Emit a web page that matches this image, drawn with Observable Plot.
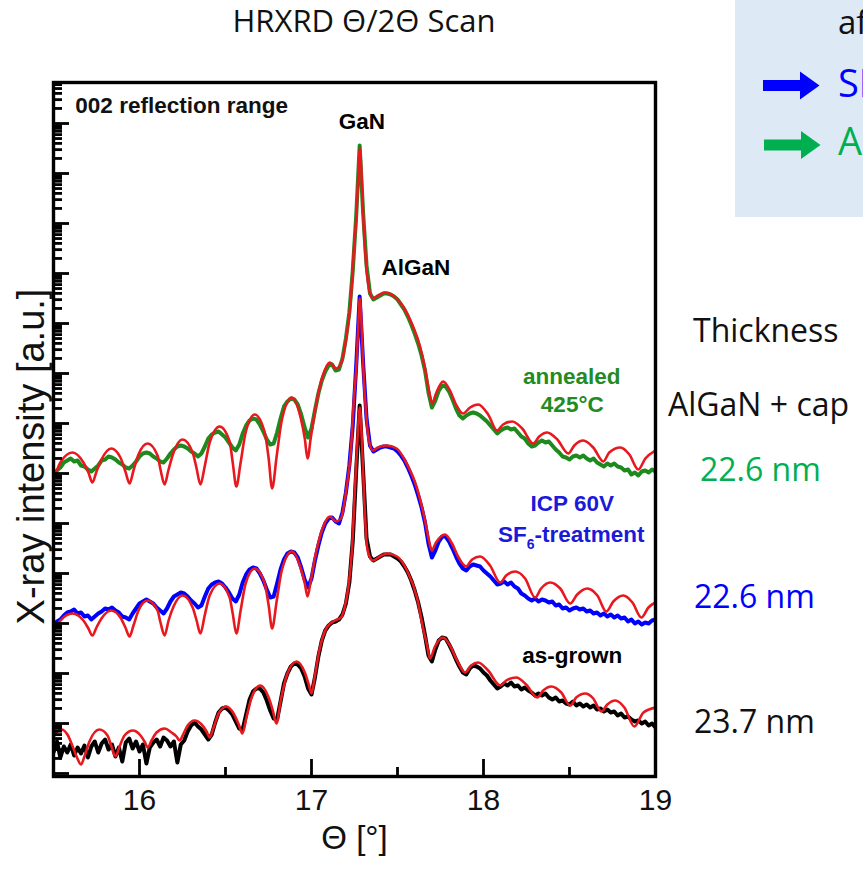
<!DOCTYPE html>
<html>
<head>
<meta charset="utf-8">
<script src="https://cdn.jsdelivr.net/npm/d3@7"></script>
<script src="https://cdn.jsdelivr.net/npm/@observablehq/plot@0.6"></script>
<style>
  html, body { margin: 0; padding: 0; background: #fff; }
  #wrap { position: relative; width: 863px; height: 870px; overflow: hidden; background: #fff; }
  #wrap > svg { position: absolute; left: 0; top: 0; }
  .ov { position: absolute; font-family: "Open Sans", "Noto Sans", sans-serif; white-space: nowrap; }
</style>
</head>
<body>
<div id="wrap"></div>
<script>
// ---------- measured scans: common theta grid (deg) and log10 intensity ----------
const scanTheta = [
15.50,15.52,15.54,15.56,15.58,15.60,15.62,15.64,15.66,15.68,
15.70,15.72,15.74,15.76,15.78,15.80,15.82,15.84,15.86,15.88,
15.90,15.92,15.94,15.96,15.98,16.00,16.02,16.04,16.06,16.08,
16.10,16.12,16.14,16.16,16.18,16.20,16.22,16.24,16.26,16.28,
16.30,16.32,16.34,16.36,16.38,16.40,16.42,16.44,16.46,16.48,
16.50,16.52,16.54,16.56,16.58,16.60,16.62,16.64,16.66,16.68,
16.70,16.72,16.74,16.76,16.78,16.80,16.82,16.84,16.86,16.88,
16.90,16.92,16.94,16.96,16.98,17.00,17.02,17.04,17.06,17.08,
17.10,17.12,17.14,17.16,17.18,17.20,17.22,17.24,17.26,17.28,
17.30,17.32,17.34,17.36,17.38,17.40,17.42,17.44,17.46,17.48,
17.50,17.52,17.54,17.56,17.58,17.60,17.62,17.64,17.66,17.68,
17.70,17.72,17.74,17.76,17.78,17.80,17.82,17.84,17.86,17.88,
17.90,17.92,17.94,17.96,17.98,18.00,18.02,18.04,18.06,18.08,
18.10,18.12,18.14,18.16,18.18,18.20,18.22,18.24,18.26,18.28,
18.30,18.32,18.34,18.36,18.38,18.40,18.42,18.44,18.46,18.48,
18.50,18.52,18.54,18.56,18.58,18.60,18.62,18.64,18.66,18.68,
18.70,18.72,18.74,18.76,18.78,18.80,18.82,18.84,18.86,18.88,
18.90,18.92,18.94,18.96,18.98,19.00];

const annealedScan = [
6.00,6.06,6.12,6.22,6.26,6.30,6.24,6.26,6.16,6.14,
6.08,6.04,6.10,6.16,6.26,6.28,6.34,6.32,6.28,6.22,
6.18,6.12,6.10,6.16,6.24,6.34,6.40,6.42,6.40,6.34,
6.30,6.24,6.22,6.30,6.40,6.48,6.54,6.56,6.54,6.50,
6.44,6.40,6.34,6.40,6.54,6.70,6.78,6.82,6.84,6.78,
6.72,6.62,6.52,6.46,6.58,6.80,6.96,7.06,7.10,7.08,
6.98,6.84,6.68,6.58,6.60,6.82,7.10,7.34,7.44,7.50,
7.48,7.38,7.18,6.92,6.72,6.90,7.26,7.60,7.86,8.04,
8.16,8.18,8.06,8.08,8.30,8.70,9.22,10.06,11.16,12.56,
11.22,10.16,9.60,9.48,9.52,9.56,9.60,9.60,9.58,9.54,
9.48,9.38,9.28,9.14,8.98,8.80,8.60,8.36,8.06,7.62,
7.32,7.46,7.66,7.76,7.74,7.64,7.48,7.30,7.16,7.10,
7.16,7.20,7.22,7.20,7.16,7.10,7.04,6.96,6.88,6.80,
6.86,6.90,6.92,6.88,6.90,6.82,6.74,6.70,6.60,6.54,
6.56,6.62,6.66,6.62,6.64,6.56,6.48,6.42,6.34,6.32,
6.28,6.34,6.36,6.32,6.36,6.30,6.26,6.30,6.22,6.18,
6.14,6.20,6.16,6.20,6.14,6.12,6.06,6.08,5.98,6.02,
5.96,6.04,6.06,6.02,6.08,6.04];

const icpScan = [
2.96,3.04,3.08,3.16,3.22,3.24,3.28,3.20,3.22,3.14,
3.16,3.08,3.14,3.20,3.24,3.30,3.28,3.32,3.26,3.22,
3.14,3.12,3.08,3.20,3.30,3.40,3.44,3.48,3.44,3.40,
3.32,3.26,3.20,3.30,3.44,3.54,3.58,3.62,3.60,3.54,
3.46,3.40,3.32,3.36,3.54,3.70,3.78,3.82,3.84,3.80,
3.72,3.62,3.50,3.44,3.58,3.82,3.98,4.08,4.12,4.10,
4.00,3.86,3.68,3.52,3.54,3.80,4.08,4.28,4.40,4.44,
4.42,4.32,4.12,3.88,3.72,3.90,4.26,4.56,4.82,5.00,
5.10,5.12,5.04,5.00,5.22,5.62,6.16,6.96,8.16,9.54,
8.22,7.10,6.56,6.44,6.48,6.52,6.54,6.54,6.52,6.50,
6.44,6.36,6.26,6.12,5.96,5.78,5.56,5.32,5.02,4.60,
4.32,4.46,4.64,4.74,4.74,4.64,4.50,4.34,4.20,4.10,
4.06,4.14,4.18,4.16,4.14,4.06,4.00,3.94,3.86,3.78,
3.80,3.84,3.78,3.82,3.74,3.70,3.60,3.56,3.50,3.46,
3.50,3.44,3.48,3.46,3.42,3.44,3.36,3.38,3.30,3.32,
3.26,3.30,3.32,3.28,3.30,3.24,3.26,3.20,3.22,3.16,
3.20,3.14,3.18,3.12,3.16,3.10,3.12,3.04,3.08,3.00,
3.04,2.98,3.02,3.00,3.06,3.08];

const asGrownScan = [
0.42,0.64,0.32,0.54,0.42,0.58,0.36,0.52,0.40,0.56,
0.32,0.54,0.64,0.42,0.60,0.68,0.48,0.58,0.34,0.52,
0.24,0.62,0.70,0.50,0.64,0.44,0.58,0.20,0.52,0.62,
0.68,0.54,0.72,0.66,0.54,0.64,0.22,0.58,0.66,0.84,
0.96,1.02,0.94,0.88,0.78,0.68,0.78,1.02,1.22,1.30,
1.32,1.26,1.18,1.04,0.90,0.88,1.18,1.48,1.64,1.70,
1.70,1.62,1.46,1.26,1.10,1.08,1.44,1.80,2.00,2.14,
2.20,2.18,2.10,1.94,1.70,1.58,1.92,2.34,2.66,2.86,
2.96,3.02,3.04,3.08,3.18,3.40,3.82,4.66,6.06,7.36,
6.06,4.70,4.34,4.26,4.30,4.34,4.38,4.38,4.38,4.34,
4.30,4.24,4.14,4.02,3.86,3.66,3.42,3.12,2.76,2.36,
2.24,2.48,2.66,2.72,2.70,2.58,2.44,2.28,2.14,2.02,
1.98,2.10,2.16,2.14,2.10,2.02,1.96,1.86,1.78,1.70,
1.74,1.80,1.76,1.82,1.74,1.76,1.68,1.72,1.66,1.62,
1.56,1.60,1.56,1.60,1.52,1.48,1.52,1.44,1.46,1.40,
1.38,1.44,1.36,1.40,1.34,1.38,1.32,1.36,1.28,1.30,
1.24,1.28,1.22,1.24,1.16,1.20,1.12,1.14,1.08,1.04,
1.06,1.00,1.04,0.96,1.00,0.92];

// ---------- simulated fits: [theta, log10 intensity] ----------
const annealedFit = [[15.499,5.86],[15.540,6.22],[15.610,6.42],[15.674,6.22],[15.703,6.02],[15.726,5.82],[15.750,6.04],[15.779,6.28],[15.835,6.50],[15.889,6.32],[15.918,6.04],[15.942,5.80],[15.965,6.06],[15.994,6.38],[16.047,6.60],[16.105,6.36],[16.122,6.08],[16.146,5.78],[16.169,6.08],[16.198,6.42],[16.250,6.68],[16.309,6.42],[16.332,6.10],[16.354,5.78],[16.379,6.14],[16.408,6.62],[16.466,6.94],[16.524,6.64],[16.542,6.22],[16.563,5.74],[16.588,6.22],[16.617,6.82],[16.670,7.18],[16.728,6.82],[16.751,6.30],[16.771,5.70],[16.798,6.36],[16.827,7.06],[16.885,7.52],[16.938,7.10],[16.961,6.70],[16.977,6.30],[16.996,6.72],[17.029,7.42],[17.066,7.96],[17.107,8.22],[17.142,8.10],[17.171,8.20],[17.204,8.76],[17.229,9.50],[17.246,10.46],[17.262,11.20],[17.273,12.06],[17.281,12.50],[17.290,12.06],[17.300,11.20],[17.316,10.26],[17.334,9.70],[17.357,9.50],[17.386,9.56],[17.427,9.62],[17.474,9.56],[17.532,9.34],[17.590,8.94],[17.631,8.54],[17.660,8.10],[17.683,7.66],[17.701,7.40],[17.724,7.60],[17.765,7.84],[17.805,7.66],[17.840,7.38],[17.881,7.20],[17.922,7.32],[17.969,7.38],[18.027,7.18],[18.079,6.86],[18.114,6.98],[18.167,7.04],[18.225,6.90],[18.289,6.60],[18.324,6.74],[18.370,6.82],[18.429,6.68],[18.493,6.40],[18.528,6.56],[18.580,6.66],[18.638,6.52],[18.697,6.24],[18.731,6.42],[18.796,6.52],[18.848,6.38],[18.900,6.08],[18.941,6.30],[18.999,6.46]];

const icpFit = [[15.499,2.82],[15.540,3.06],[15.610,3.20],[15.674,3.06],[15.703,2.90],[15.726,2.76],[15.750,2.92],[15.779,3.10],[15.835,3.26],[15.889,3.12],[15.918,2.92],[15.942,2.74],[15.965,2.96],[15.994,3.26],[16.047,3.46],[16.105,3.26],[16.122,3.02],[16.146,2.76],[16.169,3.06],[16.198,3.34],[16.250,3.56],[16.309,3.32],[16.332,3.06],[16.354,2.80],[16.379,3.16],[16.408,3.56],[16.466,3.80],[16.524,3.52],[16.542,3.20],[16.563,2.80],[16.588,3.26],[16.617,3.80],[16.670,4.10],[16.728,3.80],[16.751,3.36],[16.771,2.90],[16.798,3.46],[16.827,4.06],[16.885,4.44],[16.938,4.10],[16.961,3.80],[16.977,3.54],[16.996,3.86],[17.029,4.46],[17.066,4.92],[17.107,5.14],[17.142,5.04],[17.171,5.10],[17.204,5.72],[17.229,6.46],[17.246,7.46],[17.262,8.20],[17.273,9.06],[17.281,9.50],[17.290,9.06],[17.300,8.20],[17.316,7.26],[17.334,6.66],[17.357,6.46],[17.386,6.52],[17.437,6.56],[17.495,6.50],[17.553,6.20],[17.612,5.72],[17.660,5.06],[17.683,4.66],[17.699,4.46],[17.724,4.62],[17.776,4.78],[17.817,4.60],[17.852,4.34],[17.899,4.14],[17.934,4.28],[17.980,4.34],[18.038,4.16],[18.097,3.82],[18.132,3.96],[18.184,4.04],[18.242,3.90],[18.300,3.52],[18.335,3.70],[18.388,3.82],[18.446,3.70],[18.504,3.40],[18.545,3.58],[18.603,3.70],[18.662,3.56],[18.714,3.24],[18.755,3.44],[18.813,3.56],[18.866,3.42],[18.918,3.12],[18.959,3.32],[18.999,3.42]];

const asGrownFit = [[15.499,0.72],[15.522,0.84],[15.546,0.88],[15.581,0.78],[15.616,0.50],[15.639,0.30],[15.660,0.18],[15.680,0.34],[15.709,0.64],[15.767,0.88],[15.814,0.76],[15.837,0.54],[15.860,0.34],[15.884,0.54],[15.913,0.76],[15.961,0.86],[16.006,0.76],[16.029,0.64],[16.048,0.52],[16.070,0.66],[16.099,0.82],[16.146,0.90],[16.186,0.82],[16.215,0.74],[16.233,0.66],[16.256,0.80],[16.280,0.96],[16.320,1.06],[16.361,0.98],[16.390,0.84],[16.408,0.72],[16.431,0.92],[16.460,1.20],[16.505,1.34],[16.547,1.20],[16.577,0.98],[16.598,0.80],[16.623,1.14],[16.652,1.52],[16.703,1.76],[16.751,1.52],[16.775,1.26],[16.796,1.00],[16.821,1.46],[16.856,1.96],[16.913,2.24],[16.961,2.02],[16.984,1.78],[17.000,1.60],[17.019,1.94],[17.048,2.50],[17.089,2.92],[17.136,3.06],[17.171,3.12],[17.194,3.34],[17.217,3.80],[17.235,4.46],[17.252,5.66],[17.267,6.66],[17.281,7.32],[17.293,6.66],[17.307,5.46],[17.322,4.56],[17.340,4.32],[17.357,4.26],[17.398,4.34],[17.439,4.40],[17.497,4.34],[17.555,4.06],[17.613,3.52],[17.648,2.92],[17.672,2.56],[17.689,2.30],[17.718,2.54],[17.765,2.72],[17.805,2.56],[17.846,2.26],[17.893,2.02],[17.928,2.16],[17.969,2.22],[18.027,2.06],[18.097,1.76],[18.132,1.86],[18.190,1.92],[18.248,1.78],[18.312,1.52],[18.347,1.66],[18.394,1.74],[18.452,1.62],[18.504,1.36],[18.539,1.52],[18.592,1.60],[18.638,1.50],[18.685,1.24],[18.720,1.38],[18.766,1.46],[18.819,1.32],[18.877,0.94],[18.930,1.22],[18.999,1.32]];

// ---------- axis ticks / labels ----------
const xMajorTicks = [16, 17, 18];
const xMinorTicks = [16.5, 17.5, 18.5];
const xTickLabels = [16, 17, 18, 19];
const xLabel = "\u0398 [\u00b0]";
const yLabel = "X-ray intensity [a.u.]";

// ---------- in-plot annotations ----------
const noteText  = ["GaN", "AlGaN", "annealed", "425\u00b0C", "ICP 60V", "SF6-treatment", "as-grown"];
const noteTheta = [17.293, 17.607, 18.513, 18.516, 18.516, 18.510, 18.516];
const noteLog   = [13.04, 10.12, 7.94, 7.38, 5.40, 4.78, 2.36];
const noteKind  = ["k", "k", "g", "g", "b", "b", "k"];
const rangeNote = ["002 reflection range"];
const rangeNoteTheta = [15.627];
const rangeNoteLog = [13.36];

// ---------- side panel text ----------
const titleText = "HRXRD \u0398/2\u0398 Scan";
const thicknessHeader = ["Thickness", "AlGaN + cap"];
const thicknessValues = ["22.6 nm", "22.6 nm", "23.7 nm"];
const boxLines = ["af", "SF", "A"];

// ---------- colours ----------
const GREEN = "#1e8a1e", BLUE = "#0000ff", BLACK = "#000000", RED = "#e8191e";
const kindColor = {k: "#000", g: "#228b22", b: "#1a1ad8"};

const W = 863, H = 870, ML = 53, MR = 208, MT = 82, MB = 94;
const plotW = W - ML - MR, plotH = H - MT - MB;
const FONT = "Liberation Sans, Arial, Helvetica, sans-serif";

const scanRows = (log) => scanTheta.map((t, i) => ({theta: t, I: Math.pow(10, log[i])}));
const fitRows = (arr) => arr.map(([t, l]) => ({theta: t, I: Math.pow(10, l)}));

// log ticks on the y axis
const yMajor = [], yMinor = [];
for (let k = 0; k <= 13; k++) {
  yMajor.push(Math.pow(10, k));
  for (let m = 2; m <= 9; m++) {
    const v = m * Math.pow(10, k);
    if (Math.log10(v) <= 13.8) yMinor.push(v);
  }
}

const chart = Plot.plot({
  width: W, height: H,
  marginLeft: ML, marginRight: MR, marginTop: MT, marginBottom: MB,
  style: {background: "transparent", fontFamily: FONT},
  x: {domain: [15.5, 19], axis: null},
  y: {type: "log", domain: [Math.pow(10, -0.06), Math.pow(10, 13.82)], axis: null},
  marks: [
    // measured scans
    Plot.line(scanRows(annealedScan), {x: "theta", y: "I", stroke: GREEN, strokeWidth: 4, clip: true}),
    Plot.line(scanRows(icpScan), {x: "theta", y: "I", stroke: BLUE, strokeWidth: 4, clip: true}),
    Plot.line(scanRows(asGrownScan), {x: "theta", y: "I", stroke: BLACK, strokeWidth: 4, clip: true}),
    // fits
    Plot.line(fitRows(annealedFit), {x: "theta", y: "I", stroke: RED, strokeWidth: 2.6, curve: "monotone-x", clip: true}),
    Plot.line(fitRows(icpFit), {x: "theta", y: "I", stroke: RED, strokeWidth: 2.6, curve: "monotone-x", clip: true}),
    Plot.line(fitRows(asGrownFit), {x: "theta", y: "I", stroke: RED, strokeWidth: 2.6, curve: "monotone-x", clip: true}),
    // ticks (inward)
    Plot.tickY(yMajor, {y: d => d, insetRight: plotW - 16, stroke: "#000", strokeWidth: 2.8}),
    Plot.tickY(yMinor, {y: d => d, insetRight: plotW - 9, stroke: "#000", strokeWidth: 2.8}),
    Plot.tickX(xMajorTicks, {x: d => d, insetTop: plotH - 17, stroke: "#000", strokeWidth: 2.8}),
    Plot.tickX(xMinorTicks, {x: d => d, insetTop: plotH - 9, stroke: "#000", strokeWidth: 2.8}),
    Plot.frame({stroke: "#000", strokeWidth: 3.4}),
    // axis labels
    Plot.text(xTickLabels, {x: d => d, frameAnchor: "bottom", dy: 33, text: d => String(d), fontSize: 30, fontFamily: FONT, fill: "#111"}),
    Plot.text([xLabel], {frameAnchor: "bottom", dy: 72, text: d => d, fontSize: 33, fontFamily: FONT, fill: "#111", textAnchor: "middle"}),
    Plot.text([yLabel], {frameAnchor: "left", rotate: -90, dx: -22, dy: 27, text: d => d, fontSize: 38, fontFamily: FONT, fill: "#111", textAnchor: "middle", lineAnchor: "middle"}),
    // annotations
    Plot.text(rangeNote, {x: (d, i) => rangeNoteTheta[i], y: (d, i) => Math.pow(10, rangeNoteLog[i]), text: d => d, textAnchor: "start", fontSize: 22.5, fontWeight: "bold", fontFamily: FONT, fill: "#111"}),
    Plot.text(noteText, {x: (d, i) => noteTheta[i], y: (d, i) => Math.pow(10, noteLog[i]), text: d => d, fill: (d, i) => kindColor[noteKind[i]], fontSize: 22.5, fontWeight: "bold", fontFamily: FONT})
  ]
});

// subscript in SF6
chart.querySelectorAll("text").forEach(t => {
  if (t.textContent === "SF6-treatment") {
    t.textContent = "";
    const ns = "http://www.w3.org/2000/svg";
    const a = document.createElementNS(ns, "tspan"); a.textContent = "SF";
    const b = document.createElementNS(ns, "tspan"); b.textContent = "6"; b.setAttribute("dy", "7"); b.setAttribute("font-size", "14");
    const c = document.createElementNS(ns, "tspan"); c.textContent = "-treatment"; c.setAttribute("dy", "-7");
    t.append(a, b, c);
  }
});

const wrap = document.getElementById("wrap");
wrap.appendChild(chart);

function addDiv(text, left, top, size, color, extra) {
  const d = document.createElement("div");
  d.className = "ov";
  d.textContent = text;
  d.style.left = left + "px";
  d.style.top = top + "px";
  d.style.fontSize = size + "px";
  d.style.lineHeight = size + "px";
  d.style.color = color;
  if (extra) Object.assign(d.style, extra);
  wrap.appendChild(d);
  return d;
}

// title
addDiv(titleText, 164, 5, 31, "#111", {width: "400px", textAlign: "center"});

// light-blue box (top right, clipped by the page edge as in the slide)
const box = document.createElement("div");
Object.assign(box.style, {position: "absolute", left: "735px", top: "0px", width: "140px", height: "217px", background: "#dde9f5"});
wrap.appendChild(box);
const arr = document.createElementNS("http://www.w3.org/2000/svg", "svg");
arr.setAttribute("width", "863"); arr.setAttribute("height", "220");
arr.style.position = "absolute"; arr.style.left = "0"; arr.style.top = "0";
arr.innerHTML =
  '<polygon points="763,80 800,80 800,71.5 819.5,85.5 800,99.5 800,91 763,91" fill="#0000ff"/>' +
  '<polygon points="764,139.5 801,139.5 801,131 820.5,145 801,159 801,150.5 764,150.5" fill="#00b050"/>';
wrap.appendChild(arr);
addDiv(boxLines[0], 838, 5, 33, "#111");
addDiv(boxLines[1], 838, 63, 38, "#0000ff");
addDiv(boxLines[2], 838, 121, 38, "#00b050");

// thickness panel
addDiv(thicknessHeader[0], 693, 314, 32, "#111");
addDiv(thicknessHeader[1], 668, 388, 32, "#111");
addDiv(thicknessValues[0], 700, 453, 32, "#00b050");
addDiv(thicknessValues[1], 694, 580, 32, "#0000ff");
addDiv(thicknessValues[2], 694, 705, 32, "#111");
</script>
</body>
</html>
